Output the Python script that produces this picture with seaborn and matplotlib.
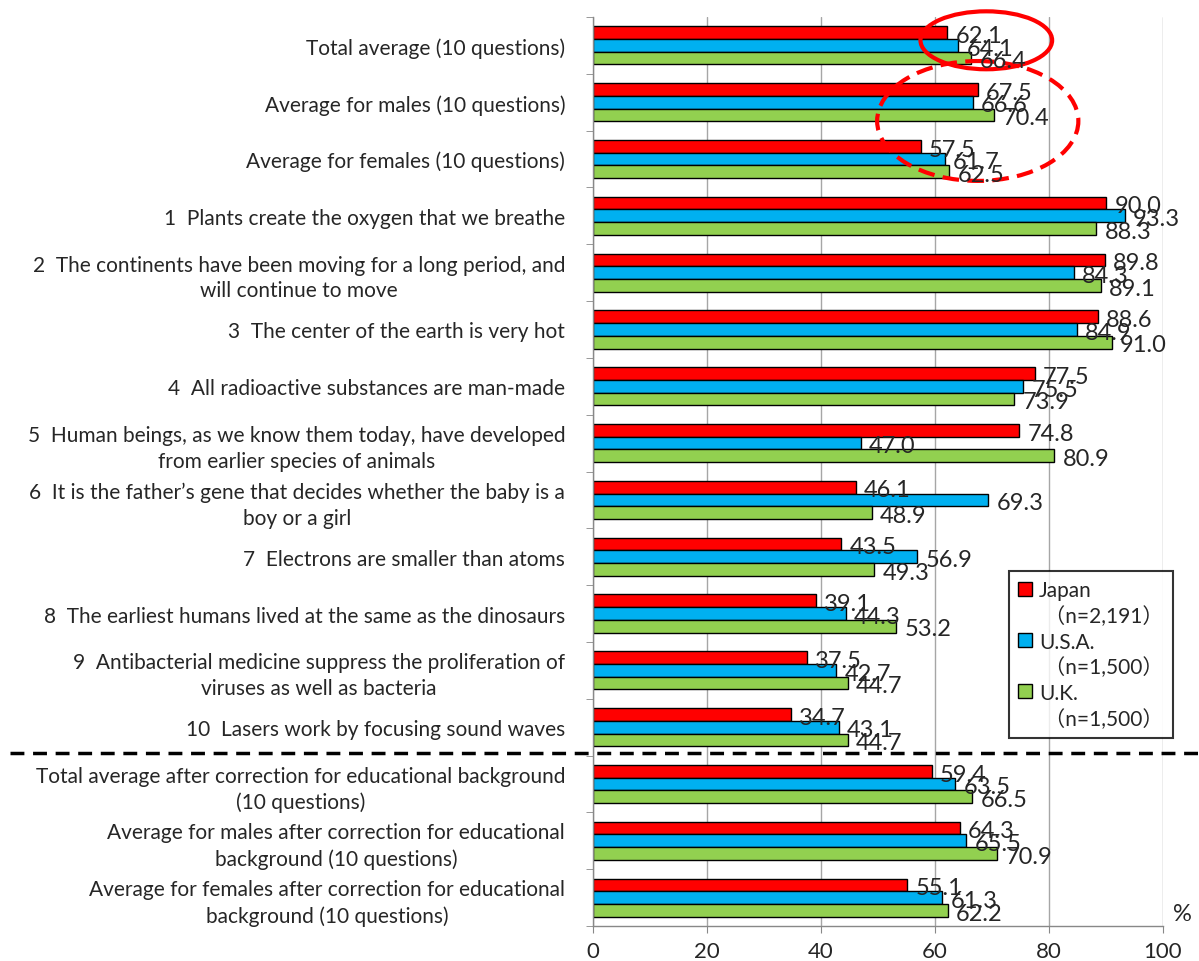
import pandas as pd
import matplotlib.pyplot as plt
import matplotlib.transforms as mtransforms
from matplotlib.patches import Ellipse, Patch
from matplotlib.ticker import FixedLocator
import seaborn as sns

categories = [
    "Total average (10 questions)",
    "Average for males (10 questions)",
    "Average for females (10 questions)",
    "1  Plants create the oxygen that we breathe",
    "2  The continents have been moving for a long period, and\nwill continue to move",
    "3  The center of the earth is very hot",
    "4  All radioactive substances are man-made",
    "5  Human beings, as we know them today, have developed\nfrom earlier species of animals",
    "6  It is the father\u2019s gene that decides whether the baby is a\nboy or a girl",
    "7  Electrons are smaller than atoms",
    "8  The earliest humans lived at the same as the dinosaurs",
    "9  Antibacterial medicine suppress the proliferation of\nviruses as well as bacteria",
    "10  Lasers work by focusing sound waves",
    "Total average after correction for educational background\n(10 questions)",
    "Average for males after correction for educational\nbackground (10 questions)",
    "Average for females after correction for educational\nbackground (10 questions)",
]
japan = [62.1, 67.5, 57.5, 90.0, 89.8, 88.6, 77.5, 74.8, 46.1, 43.5, 39.1, 37.5, 34.7, 59.4, 64.3, 55.1]
usa = [64.1, 66.6, 61.7, 93.3, 84.3, 84.9, 75.5, 47.0, 69.3, 56.9, 44.3, 42.7, 43.1, 63.5, 65.5, 61.3]
uk = [66.4, 70.4, 62.5, 88.3, 89.1, 91.0, 73.9, 80.9, 48.9, 49.3, 53.2, 44.7, 44.7, 66.5, 70.9, 62.2]
countries = ["Japan", "U.S.A.", "U.K."]
sample_sizes = ["\uff08n=2,191\uff09", "\uff08n=1,500\uff09", "\uff08n=1,500\uff09"]
colors = ["#FF0000", "#00B0F0", "#92D050"]

df = pd.DataFrame({
    "category": categories * 3,
    "country": ["Japan"] * 16 + ["U.S.A."] * 16 + ["U.K."] * 16,
    "value": japan + usa + uk,
})

sns.set_style("white")
plt.rcParams['font.family'] = ['Lato', 'Noto Sans CJK JP', 'DejaVu Sans']
plt.rcParams['font.size'] = 15

fig = plt.figure(figsize=(11.99, 9.62), dpi=100)
ax = fig.add_axes([593 / 1199, 1 - 927 / 962, 570 / 1199, 909 / 962])

sns.barplot(data=df, y="category", x="value", hue="country", order=categories,
            hue_order=countries, palette=colors, width=0.67, edgecolor="black",
            linewidth=1, saturation=1, ax=ax, legend=True)

# value labels sit just right of each bar, nudged down a little
for cont in ax.containers:
    anns = ax.bar_label(cont, fmt="%.1f", padding=4, fontsize=17)
    for a in anns:
        a.xyann = (6, -2)

ax.set_ylim(15.5, -0.5)
ax.set_xlim(0, 100)
ax.set_xticks([0, 20, 40, 60, 80, 100])
ax.xaxis.grid(True, color="#A6A6A6", linewidth=1)
ax.set_axisbelow(True)
ax.set_xlabel("")
ax.set_ylabel("")
ax.tick_params(axis="x", labelsize=16, length=5, color="#888888", pad=6, bottom=True)
ax.tick_params(axis="y", which="major", length=0, pad=20, labelsize=15)
ax.yaxis.set_minor_locator(FixedLocator([i - 0.5 for i in range(17)]))
ax.tick_params(axis="y", which="minor", length=5, color="#888888", left=True)
for lbl in ax.get_yticklabels():
    lbl.set_multialignment("center")
    lbl.set_linespacing(1.35)

for s in ["top", "right"]:
    ax.spines[s].set_visible(False)
for s in ["left", "bottom"]:
    ax.spines[s].set_color("#888888")
    ax.spines[s].set_linewidth(1)

ax.text((1173 - 593) / 570, 0.002, "%", transform=ax.transAxes, fontsize=17, va="bottom", ha="left")

# legend: colour square + country, then sample size line without a marker
handles, _ = ax.get_legend_handles_labels()
leg_handles, leg_labels = [], []
for h, c, n in zip(handles, countries, sample_sizes):
    leg_handles += [h, Patch(visible=False)]
    leg_labels += [c, " " + n]
leg = ax.legend(leg_handles, leg_labels, loc="upper left",
                bbox_to_anchor=(1009 / 1199, 1 - 572 / 962), bbox_transform=fig.transFigure,
                frameon=True, fancybox=False, edgecolor="black", fontsize=15,
                handlelength=0.65, handleheight=0.65, handletextpad=0.35,
                labelspacing=0.25, borderpad=0.45, borderaxespad=0)
leg.get_frame().set_linewidth(1.5)

ax.add_patch(Ellipse((69, -0.09), 23.1, 1.02, fill=False, edgecolor="red", linewidth=3, clip_on=False))
ax.add_patch(Ellipse((67.5, 1.33), 35.3, 2.11, fill=False, edgecolor="red", linewidth=3,
                     linestyle=(0, (4, 2)), clip_on=False))

trans = mtransforms.blended_transform_factory(fig.transFigure, ax.transData)
ax.plot([10 / 1199, 1.0], [12.45, 12.45], transform=trans, color="black", linewidth=2.5,
        linestyle=(0, (4, 2.5)), clip_on=False)

fig.savefig("out.png", dpi=100)
